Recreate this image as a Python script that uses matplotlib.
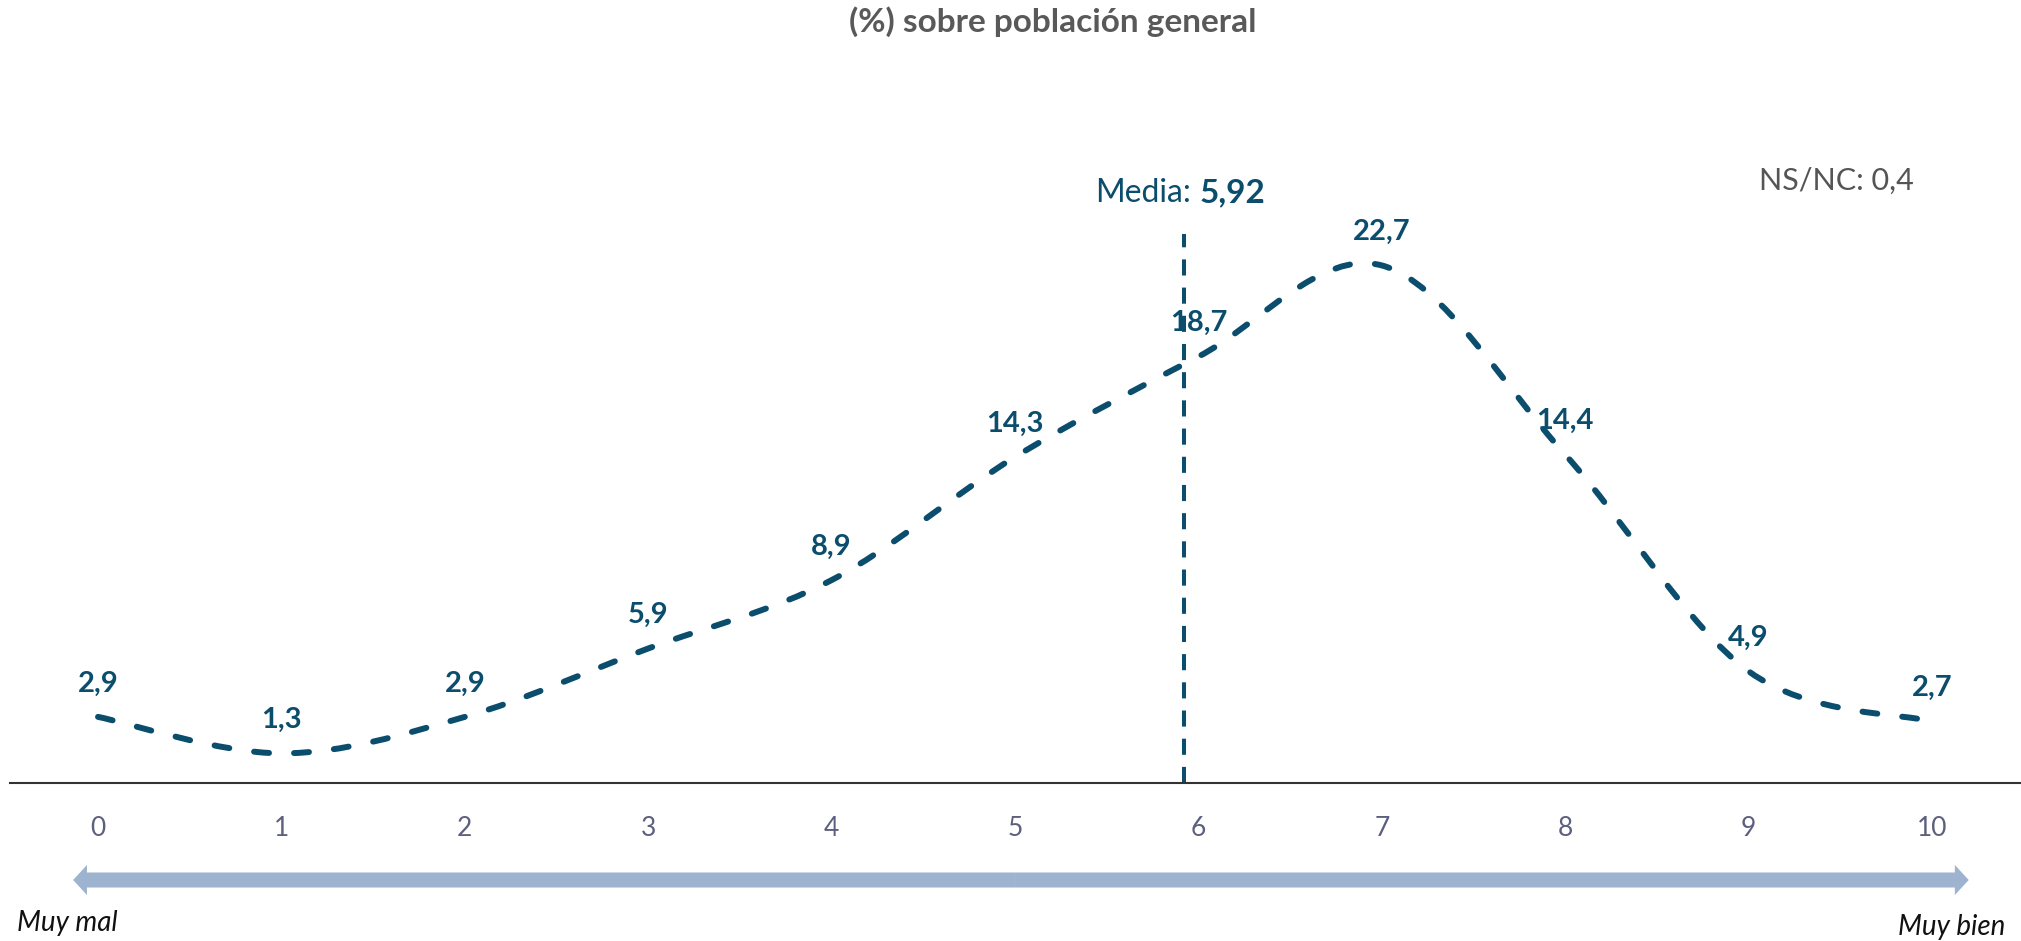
import matplotlib
matplotlib.use("Agg")
import matplotlib.pyplot as plt
from matplotlib.path import Path
from matplotlib.patches import PathPatch, FancyArrowPatch
import matplotlib.transforms as mtransforms

# ---- data ----
scores = [0, 1, 2, 3, 4, 5, 6, 7, 8, 9, 10]
values = [2.9, 1.3, 2.9, 5.9, 8.9, 14.3, 18.7, 22.7, 14.4, 4.9, 2.7]
value_labels = ["2,9", "1,3", "2,9", "5,9", "8,9", "14,3", "18,7", "22,7", "14,4", "4,9", "2,7"]
tick_labels = [str(s) for s in scores]
mean_value = 5.92
mean_label = "5,92"
nsnc_label = "NS/NC: 0,4"
title = "(%) sobre población general"

BLUE = "#0b4d6c"
FONT = "Lato"

W, H = 2021, 941
fig = plt.figure(figsize=(W / 100, H / 100), dpi=100)
ax_h = 30 * 22.8 / H
ax = fig.add_axes([10 / W, 158 / H, 1 - 10 / W, ax_h])
ax.set_xlim(-0.48, 10.485)
ax.set_ylim(0, 30)

for s in ["top", "right", "left"]:
    ax.spines[s].set_visible(False)
ax.spines["bottom"].set_color("#333333")
ax.spines["bottom"].set_linewidth(1.5)
ax.set_yticks([])
ax.set_xticks(scores)
ax.set_xticklabels(tick_labels, fontsize=19, color="#5c5f7d", family=FONT)
ax.tick_params(axis="x", length=0, pad=24)

# ---- smoothed line (cubic Bezier, Excel-like smoothing) ----
pts = list(zip(scores, values))
n = len(pts)
verts = [pts[0]]
codes = [Path.MOVETO]
for i in range(n - 1):
    p0 = pts[i - 1] if i > 0 else pts[i]
    p1 = pts[i]
    p2 = pts[i + 1]
    p3 = pts[i + 2] if i + 2 < n else pts[i + 1]
    c1 = (p1[0] + (p2[0] - p0[0]) / 6, p1[1] + (p2[1] - p0[1]) / 6)
    c2 = (p2[0] - (p3[0] - p1[0]) / 6, p2[1] - (p3[1] - p1[1]) / 6)
    verts += [c1, c2, p2]
    codes += [Path.CURVE4] * 3
curve = PathPatch(Path(verts, codes), fill=False, edgecolor=BLUE, linewidth=4.3,
                  linestyle=(0, (2.5, 4.2)), capstyle="round", joinstyle="round",
                  transform=ax.transData)
ax.add_patch(curve)

# ---- value labels ----
for x, v, lab in zip(scores, values, value_labels):
    ax.annotate(lab, xy=(x, v), xytext=(0, 24), textcoords="offset points",
                ha="center", va="center", fontsize=21, fontweight="bold",
                color=BLUE, family=FONT, annotation_clip=False)

# ---- mean line ----
ax.plot([mean_value, mean_value], [0, 24.1], color=BLUE, linewidth=2.9,
        linestyle=(0, (4.0, 3.0)), solid_capstyle="butt", dash_capstyle="butt",
        clip_on=False)
ax.annotate("Media:", xy=(mean_value, 25.48), xytext=(5, 0), textcoords="offset points",
            ha="right", va="baseline", fontsize=23, color=BLUE, family=FONT,
            annotation_clip=False)
ax.annotate(mean_label, xy=(mean_value, 25.48), xytext=(11, 0), textcoords="offset points",
            ha="left", va="baseline", fontsize=24, fontweight="bold", color=BLUE,
            family=FONT, annotation_clip=False)

# ---- NS/NC ----
ax.text(9.9, 26.4, nsnc_label, ha="right", va="center", fontsize=22,
        color="#555555", family=FONT, clip_on=False)

# ---- title ----
fig.text(0.521, (H - 22) / H, title, ha="center", va="center", fontsize=24,
         fontweight="bold", color="#595959", family=FONT)

# ---- bottom arrow ----
btrans = mtransforms.blended_transform_factory(ax.transData, fig.transFigure)
y_arrow = 61 / H
x_mid = 5.0
for x_end in (-0.136, 10.2):
    arr = FancyArrowPatch((x_mid, y_arrow), (x_end, y_arrow), transform=btrans,
                          arrowstyle="simple,head_length=10,head_width=21.6,tail_width=10.8",
                          mutation_scale=1, shrinkA=0, shrinkB=0,
                          color="#9db3cf", linewidth=0, clip_on=False)
    fig.add_artist(arr)

fig.text(17 / W, (H - 923) / H, "Muy mal", ha="left", va="center", fontsize=20,
         style="italic", color="#111111", family=FONT)
fig.text(2005 / W, (H - 927) / H, "Muy bien", ha="right", va="center", fontsize=20,
         style="italic", color="#111111", family=FONT)

fig.savefig("out.png", dpi=100, facecolor="white")
